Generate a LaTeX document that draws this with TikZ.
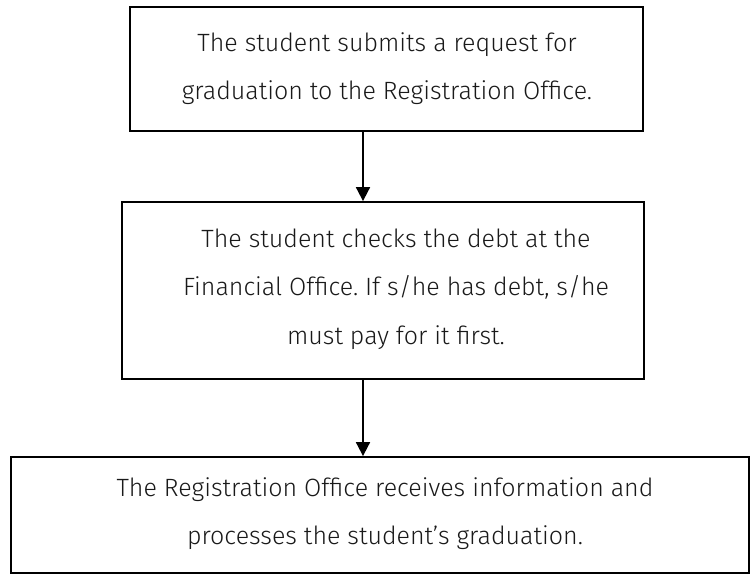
\documentclass[tikz,border=0pt]{standalone}
\usepackage{fontspec}
\setmainfont{Fira Sans}[UprightFont=* Light]
\usetikzlibrary{arrows.meta}
\begin{document}
\frenchspacing
\begin{tikzpicture}[x=1pt,y=-1pt,
  stepbox/.style={draw=black, line width=1.8pt, inner sep=0pt},
  steptext/.style={align=center, inner sep=0pt,
    font=\fontsize{25}{47.5}\selectfont, text=black!90},
  arr/.style={line width=1.8pt, -{Triangle[width=14pt,length=14pt]}}]
\useasboundingbox (0,0) rectangle (750,574);
\node[stepbox, minimum width=513pt, minimum height=124pt] (b1) at (386.5,69) {};
\node[steptext] (t1) at (387,68.5)
  {The student submits a request for\\graduation to the Registration Office.};
\node[stepbox, minimum width=522pt, minimum height=177pt] (b2) at (383,290.5) {};
\node[steptext, font=\fontsize{25}{48.5}\selectfont] (t2) at (396,289)
  {The student checks the debt at the\\Financial Office. If s/he has debt, s/he\\must pay for it first.};
\node[stepbox, minimum width=738pt, minimum height=116pt] (b3) at (380,515) {};
\node[steptext] (t3) at (385,513.5)
  {The Registration Office receives information and\\processes the student’s graduation.};
\coordinate (ax) at (363,0);
\draw[arr] (b1.south -| ax) -- (b2.north -| ax);
\draw[arr] (b2.south -| ax) -- (b3.north -| ax);
\end{tikzpicture}
\end{document}
